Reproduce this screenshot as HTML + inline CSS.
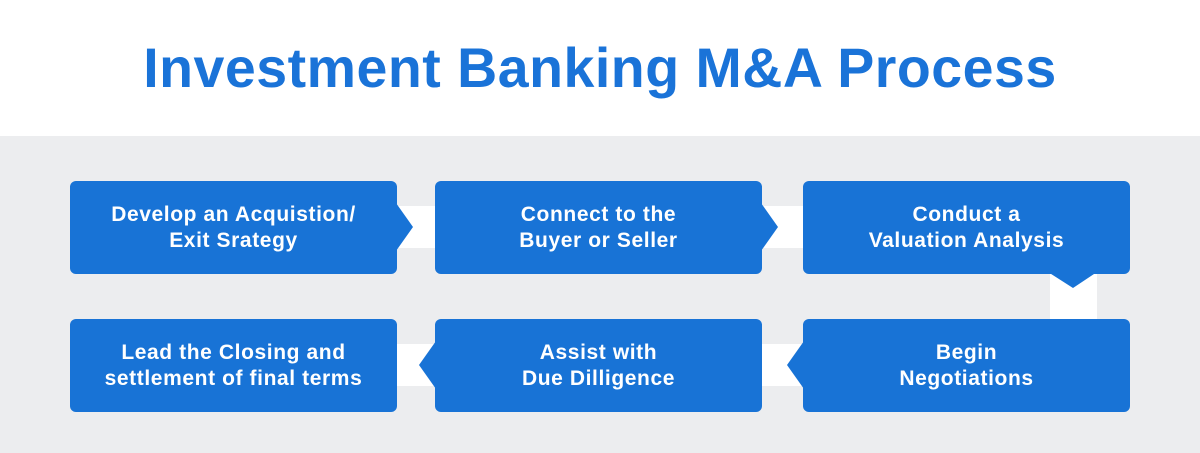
<!DOCTYPE html>
<html><head><meta charset="utf-8"><style>
*{margin:0;padding:0;box-sizing:border-box}
body{width:1200px;height:453px;overflow:hidden;background:#fff;font-family:"Liberation Sans",sans-serif;position:relative}
.title{position:absolute;left:0;top:36px;width:1200px;text-align:center;font-size:55.5px;font-weight:bold;color:#1a73d8;letter-spacing:0.5px}
.gray{position:absolute;left:0;top:136px;width:1200px;height:317px;background:#ecedef}
.band{position:absolute;background:#fff}
.box{position:absolute;width:327px;height:93px;background:#1873d6;border-radius:6px;color:#fff;font-weight:bold;font-size:21px;letter-spacing:0.6px;line-height:26px;display:flex;align-items:center;justify-content:center;text-align:center}
svg{position:absolute;left:0;top:0}
</style></head><body>
<div class="title">Investment Banking M&amp;A Process</div>
<div class="gray"></div>
<div class="band" style="left:390px;top:206px;width:420px;height:42px"></div>
<div class="band" style="left:390px;top:344px;width:420px;height:42px"></div>
<div class="band" style="left:1050px;top:270px;width:47px;height:55px"></div>
<div class="box" style="left:70px;top:181px">Develop an Acquistion/<br>Exit Srategy</div>
<div class="box" style="left:435px;top:181px">Connect to the<br>Buyer or Seller</div>
<div class="box" style="left:803px;top:181px">Conduct a<br>Valuation Analysis</div>
<div class="box" style="left:70px;top:319px">Lead the Closing and<br>settlement of final terms</div>
<div class="box" style="left:435px;top:319px">Assist with<br>Due Dilligence</div>
<div class="box" style="left:803px;top:319px">Begin<br>Negotiations</div>
<svg width="1200" height="453">
<polygon points="396,203 413,227 396,251" fill="#1873d6"/>
<polygon points="761,203 778,227 761,251" fill="#1873d6"/>
<polygon points="1048,272 1097,272 1073,288" fill="#1873d6"/>
<polygon points="436,341 419,365 436,389" fill="#1873d6"/>
<polygon points="804,341 787,365 804,389" fill="#1873d6"/>
</svg>
</body></html>
